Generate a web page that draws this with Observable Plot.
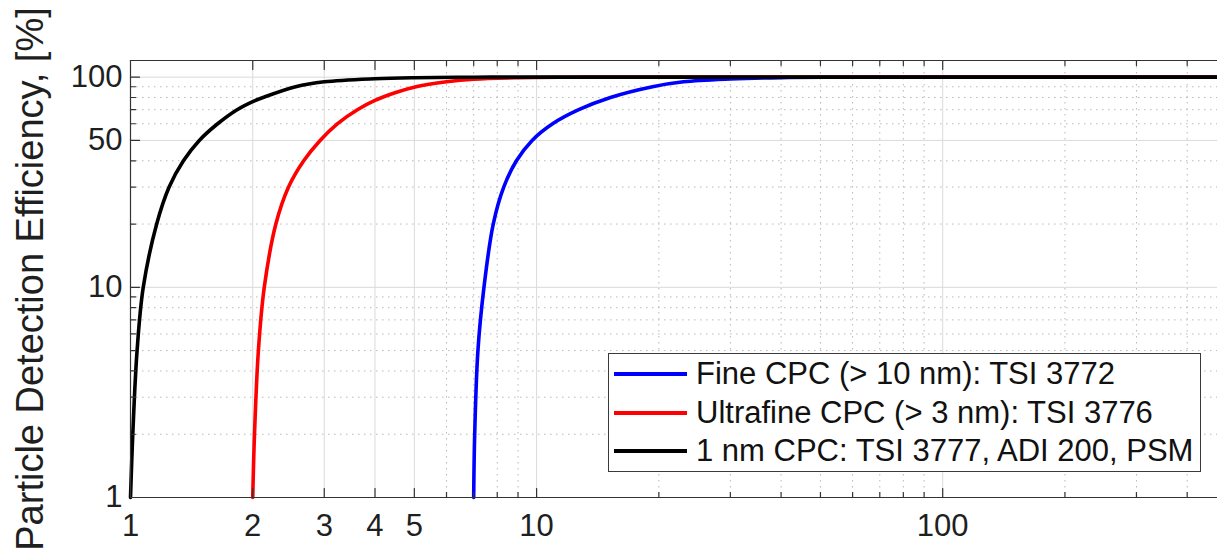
<!DOCTYPE html>
<html><head><meta charset="utf-8">
<script src="https://cdn.jsdelivr.net/npm/d3@7"></script>
<script src="https://cdn.jsdelivr.net/npm/@observablehq/plot@0.6"></script>
<style>
html,body{margin:0;padding:0;background:#fff;overflow:hidden;}
#wrap{position:relative;width:1217px;height:552px;font-family:"Liberation Sans",Arial,Helvetica,sans-serif;}
#legend{position:absolute;left:608px;top:353px;width:593px;height:119px;box-sizing:border-box;border:1.5px solid #3a3a3a;background:#fff;}
.item{position:absolute;left:5px;height:38px;display:flex;align-items:center;font-size:31px;color:#111;white-space:nowrap;}
.swatch{width:73px;height:0;border-top:4px solid;margin-right:9px;}
</style></head><body><div id="wrap"></div>
<script>
// ---- data ----
const seriesNames = ["Fine CPC (> 10 nm): TSI 3772", "Ultrafine CPC (> 3 nm): TSI 3776", "1 nm CPC: TSI 3777, ADI 200, PSM"];
const seriesColors = ["#0000ff", "#ff0000", "#000000"];

const fineSize = [7.0, 7.04, 7.17, 7.42, 7.82, 8.3, 8.92, 9.75, 10.95, 12.7, 15.2, 19.3, 23, 30, 40, 55, 75, 475];
const fineEff  = [1, 2, 5, 10, 20, 30, 40, 50, 60, 70, 80, 90, 95, 98, 99.5, 99.9, 100, 100];

const ultraSize = [2.0, 2.02, 2.065, 2.135, 2.28, 2.45, 2.67, 2.93, 3.23, 3.62, 4.0, 4.5, 5.05, 6.0, 7.0, 9.0, 12, 16, 475];
const ultraEff  = [1, 2, 5, 10, 20, 30, 40, 50, 60, 70, 77.5, 84.5, 90, 95, 97.8, 99.4, 99.9, 100, 100];

const oneNmSize = [1.0, 1.013, 1.038, 1.075, 1.16, 1.245, 1.35, 1.477, 1.639, 1.83, 2.0, 2.12, 2.55, 3.0, 4.0, 5.0, 7, 10, 475];
const oneNmEff  = [1, 2, 5, 10, 20, 30, 40, 50, 60, 70, 76.5, 80, 90, 95, 98.3, 99.4, 99.9, 100, 100];

const xTickValues = [1, 2, 3, 4, 5, 10, 100];
const xMinorValues = [6, 7, 8, 9, 20, 30, 40, 50, 60, 70, 80, 90, 200, 300, 400];
const yTickValues = [1, 10, 50, 100];
const yMinorValues = [2, 3, 4, 5, 6, 7, 8, 9, 20, 30, 40, 60, 70, 80, 90];
const xDomain = [1, 475];
const yDomain = [1, 120];
const yLabel = "Particle Detection Efficiency, [%]";

// ---- build table ----
const seriesSizes = [fineSize, ultraSize, oneNmSize];
const seriesEffs = [fineEff, ultraEff, oneNmEff];
const rows = [];
seriesNames.forEach((name, i) => {
  seriesSizes[i].forEach((s, j) => rows.push({series: name, size: s, eff: seriesEffs[i][j]}));
});

const tickShape = {draw(context, l) { context.moveTo(0, 0); context.lineTo(0, -l); }};
const axisColor = "#333";
const textColor = "#1f1f1f";
const majorLen = 9, minorLen = 5;
const xMajorTicks = xTickValues.filter(v => v > xDomain[0]);
const yMajorTicks = yTickValues.filter(v => v > yDomain[0]);

function ticks(values, axis, pos, rotate, len) {
  return Plot.vector(values, {
    x: axis === "x" ? (d => d) : (() => pos),
    y: axis === "x" ? (() => pos) : (d => d),
    length: len, rotate, anchor: "start", shape: tickShape,
    stroke: axisColor, strokeWidth: 1.2
  });
}

const chart = Plot.plot({
  width: 1217, height: 552,
  marginLeft: 130, marginRight: 0, marginTop: 60, marginBottom: 55,
  x: {type: "log", domain: xDomain, axis: null},
  y: {type: "log", domain: yDomain, axis: null},
  color: {domain: seriesNames, range: seriesColors},
  style: {fontFamily: "'Liberation Sans', Arial, Helvetica, sans-serif", color: textColor, background: "#fff"},
  marks: [
    Plot.ruleX(xMinorValues, {x: d => d, stroke: "#b8b8b8", strokeDasharray: "1.5,4.5", strokeWidth: 1}),
    Plot.ruleY(yMinorValues, {y: d => d, stroke: "#b8b8b8", strokeDasharray: "1.5,4.5", strokeWidth: 1}),
    Plot.ruleX(xTickValues, {x: d => d, stroke: "#dadada", strokeWidth: 1}),
    Plot.ruleY(yTickValues, {y: d => d, stroke: "#dadada", strokeWidth: 1}),
    Plot.line(rows, {x: "size", y: "eff", z: "series", stroke: "series", strokeWidth: 3.6, curve: "catmull-rom"}),
    // box (top, left, bottom)
    Plot.ruleY([yDomain[1]], {y: d => d, stroke: axisColor, strokeWidth: 1.2}),
    Plot.ruleY([yDomain[0]], {y: d => d, stroke: axisColor, strokeWidth: 1.2}),
    Plot.ruleX([xDomain[0]], {x: d => d, stroke: axisColor, strokeWidth: 1.2}),
    // inward ticks
    ticks(xMajorTicks, "x", yDomain[0], 0, majorLen),
    ticks(xMinorValues, "x", yDomain[0], 0, minorLen),
    ticks(xMajorTicks, "x", yDomain[1], 180, majorLen),
    ticks(xMinorValues, "x", yDomain[1], 180, minorLen),
    ticks(yMajorTicks, "y", xDomain[0], 90, majorLen),
    ticks(yMinorValues, "y", xDomain[0], 90, minorLen),
    // tick labels
    Plot.text(xTickValues, {x: d => d, text: d => String(d), frameAnchor: "bottom", dy: 16, lineAnchor: "top", fontSize: 31, fill: textColor, ariaLabel: "tick-label"}),
    Plot.text(yTickValues, {y: d => d, text: d => String(d), frameAnchor: "left", dx: -8, textAnchor: "end", lineAnchor: "middle", fontSize: 31, fill: textColor, ariaLabel: "tick-label"}),
    Plot.text([yLabel], {text: d => d, frameAnchor: "left", dx: -100, rotate: -90, fontSize: 38, textAnchor: "middle", lineAnchor: "middle", fill: textColor})
  ]
});

// widen tick-label glyphs a little, as in the reference rendering
d3.select(chart).selectAll('g[aria-label="tick-label"] text').each(function() {
  const el = this;
  const t = el.getAttribute("transform") || "";
  const x = el.getAttribute("x"), y = el.getAttribute("y");
  let base = t;
  if (x !== null || y !== null) {
    base = `translate(${x || 0},${y || 0}) ` + t;
    el.removeAttribute("x"); el.removeAttribute("y");
  }
  el.setAttribute("transform", base + " scale(1.2,1)");
});

const wrap = document.getElementById("wrap");
wrap.appendChild(chart);

// legend
const legend = document.createElement("div");
legend.id = "legend";
seriesNames.forEach((name, i) => {
  const item = document.createElement("div");
  item.className = "item";
  item.style.top = (1 + i * 38.7) + "px";
  const sw = document.createElement("span");
  sw.className = "swatch";
  sw.style.borderTopColor = seriesColors[i];
  const tx = document.createElement("span");
  tx.textContent = name;
  item.appendChild(sw); item.appendChild(tx);
  legend.appendChild(item);
});
wrap.appendChild(legend);
</script>
</body></html>
